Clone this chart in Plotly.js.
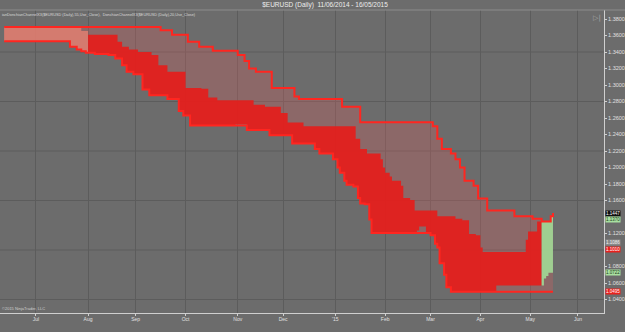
<!DOCTYPE html>
<html><head><meta charset="utf-8">
<script src="https://cdn.plot.ly/plotly-3.0.1.min.js"></script>
<style>html,body{margin:0;padding:0;background:#6c6c6c;}#chart{width:625px;height:332px;}</style>
</head><body><div id="chart"></div>
<script>
// Donchian channel 55 (Use_Close): step points (date, upper, lower)
const dates55 = ['2014-06-11','2014-07-22','2014-07-25','2014-07-29','2014-07-31','2014-08-06','2014-08-14','2014-08-19','2014-08-22','2014-08-26','2014-08-29','2014-09-04','2014-09-09','2014-09-16','2014-09-19','2014-09-23','2014-09-26','2014-09-30','2014-10-02','2014-10-03','2014-10-09','2014-10-17','2014-11-03','2014-11-06','2014-11-07','2014-11-10','2014-11-13','2014-11-21','2014-11-24','2014-12-05','2014-12-08','2014-12-10','2014-12-19','2014-12-23','2014-12-31','2015-01-02','2015-01-05','2015-01-06','2015-01-07','2015-01-08','2015-01-13','2015-01-15','2015-01-16','2015-01-20','2015-01-22','2015-01-23','2015-03-02','2015-03-03','2015-03-04','2015-03-05','2015-03-06','2015-03-09','2015-03-10','2015-03-11','2015-03-13','2015-03-17','2015-03-19','2015-03-23','2015-03-27','2015-03-31','2015-04-06','2015-04-22','2015-05-04','2015-05-08','2015-05-14','2015-05-15'];
const upper55 = [1.3703,1.3703,1.3703,1.3703,1.3703,1.3703,1.3703,1.3703,1.3703,1.3703,1.3703,1.3703,1.3703,1.3665,1.3665,1.3610,1.3610,1.3610,1.3525,1.3525,1.3465,1.3415,1.3365,1.3290,1.3290,1.3200,1.3160,1.3160,1.2965,1.2965,1.2860,1.2830,1.2830,1.2830,1.2830,1.2830,1.2830,1.2735,1.2735,1.2735,1.2735,1.2735,1.2550,1.2550,1.2550,1.2550,1.2550,1.2500,1.2500,1.2350,1.2350,1.2225,1.2225,1.2225,1.2170,1.2100,1.2000,1.1840,1.1780,1.1625,1.1480,1.1410,1.1380,1.1345,1.1410,1.1447];
const lower55 = [1.3530,1.3465,1.3430,1.3410,1.3390,1.3375,1.3365,1.3320,1.3240,1.3160,1.3130,1.2945,1.2875,1.2875,1.2830,1.2830,1.2685,1.2630,1.2630,1.2510,1.2510,1.2510,1.2510,1.2510,1.2455,1.2455,1.2455,1.2390,1.2390,1.2290,1.2290,1.2290,1.2225,1.2170,1.2100,1.2000,1.1935,1.1935,1.1840,1.1790,1.1770,1.1630,1.1565,1.1555,1.1370,1.1205,1.1180,1.1180,1.1075,1.1030,1.0840,1.0840,1.0700,1.0550,1.0495,1.0495,1.0495,1.0495,1.0495,1.0495,1.0495,1.0495,1.0495,1.0495,1.0495,1.0495];

// Donchian channel 20 (Use_Close): step points (date, upper, lower)
const dates20 = ['2014-06-11','2014-07-22','2014-07-25','2014-07-29','2014-07-31','2014-08-01','2014-08-06','2014-08-14','2014-08-19','2014-08-20','2014-08-22','2014-08-26','2014-08-27','2014-08-29','2014-09-02','2014-09-04','2014-09-09','2014-09-10','2014-09-15','2014-09-19','2014-09-26','2014-09-30','2014-10-01','2014-10-03','2014-10-10','2014-10-15','2014-10-21','2014-10-31','2014-11-07','2014-11-12','2014-11-19','2014-11-21','2014-11-28','2014-12-03','2014-12-05','2014-12-12','2014-12-19','2014-12-23','2014-12-31','2015-01-02','2015-01-05','2015-01-07','2015-01-08','2015-01-13','2015-01-14','2015-01-15','2015-01-16','2015-01-20','2015-01-21','2015-01-22','2015-01-23','2015-01-29','2015-01-30','2015-02-02','2015-02-04','2015-02-05','2015-02-11','2015-02-12','2015-02-17','2015-02-19','2015-02-20','2015-02-23','2015-02-26','2015-03-02','2015-03-04','2015-03-05','2015-03-06','2015-03-10','2015-03-11','2015-03-13','2015-03-17','2015-03-20','2015-03-25','2015-03-30','2015-04-01','2015-04-02','2015-04-10','2015-04-29','2015-04-30','2015-05-06','2015-05-11','2015-05-12','2015-05-13','2015-05-14','2015-05-15'];
const upper20 = [1.3703,1.3703,1.3703,1.3655,1.3655,1.3610,1.3610,1.3610,1.3610,1.3525,1.3465,1.3465,1.3430,1.3430,1.3400,1.3400,1.3400,1.3365,1.3240,1.3160,1.3160,1.3160,1.2965,1.2965,1.2955,1.2850,1.2815,1.2815,1.2815,1.2760,1.2735,1.2735,1.2660,1.2545,1.2545,1.2500,1.2500,1.2500,1.2500,1.2500,1.2500,1.2500,1.2500,1.2500,1.2350,1.2350,1.2225,1.2225,1.2170,1.2170,1.2170,1.2100,1.2000,1.1935,1.1890,1.1840,1.1780,1.1630,1.1605,1.1480,1.1480,1.1480,1.1480,1.1480,1.1480,1.1410,1.1410,1.1410,1.1410,1.1410,1.1380,1.1360,1.1195,1.1180,1.1030,1.0975,1.0975,1.1125,1.1225,1.1345,1.1345,1.1345,1.1345,1.1410,1.1447];
const lower20 = [1.3530,1.3465,1.3430,1.3410,1.3390,1.3390,1.3375,1.3365,1.3320,1.3320,1.3240,1.3160,1.3160,1.3130,1.3130,1.2945,1.2875,1.2875,1.2875,1.2830,1.2685,1.2630,1.2630,1.2510,1.2510,1.2510,1.2510,1.2525,1.2455,1.2455,1.2455,1.2390,1.2390,1.2390,1.2290,1.2290,1.2225,1.2170,1.2100,1.2000,1.1935,1.1840,1.1790,1.1770,1.1770,1.1630,1.1565,1.1555,1.1555,1.1370,1.1205,1.1205,1.1205,1.1205,1.1205,1.1205,1.1205,1.1205,1.1205,1.1205,1.1235,1.1285,1.1195,1.1180,1.1075,1.1030,1.0840,1.0700,1.0550,1.0495,1.0495,1.0495,1.0495,1.0495,1.0495,1.0495,1.0570,1.0570,1.0570,1.0570,1.0655,1.0685,1.0725,1.0725,1.0725];

// trend colouring of the 20 channel (segment boundaries)
const segStarts = ['2014-06-11','2014-08-01','2015-05-08'];
const segEnd = '2015-05-15';

// axis ticks / labels
const monthTicks = ['2014-07-01','2014-08-01','2014-09-01','2014-10-01','2014-11-03','2014-12-01','2015-01-01','2015-02-02','2015-03-02','2015-04-01','2015-05-01','2015-06-01'];
const monthLabels = ['Jul','Aug','Sep','Oct','Nov','Dec',"'15",'Feb','Mar','Apr','May','Jun'];
const priceTicks = [1.04,1.06,1.08,1.12,1.16,1.18,1.20,1.22,1.24,1.26,1.28,1.30,1.32,1.34,1.36,1.38];
const gridLevels = [1.04,1.10,1.16,1.22,1.28,1.34];

// right-axis value markers (last price and indicator values)
const markerValues = [1.1447,1.1370,1.1086,1.1010,1.0722,1.0495];

const FONT = 'Liberation Sans, Arial, sans-serif';

function seg(dates, a, b, start, end, includeEnd) {
  const x=[], ya=[], yb=[];
  let idx=-1;
  for (let i=0;i<dates.length;i++) if (dates[i] <= start) idx=i;
  if (idx>=0 && dates[idx] !== start) { x.push(start); ya.push(a[idx]); yb.push(b[idx]); }
  let last=-1;
  for (let i=0;i<dates.length;i++) {
    if (dates[i] >= start && (dates[i] < end || (includeEnd && dates[i] === end))) {
      x.push(dates[i]); ya.push(a[i]); yb.push(b[i]);
    }
    if (dates[i] < end) last=i;
  }
  if (!includeEnd && last>=0) { x.push(end); ya.push(a[last]); yb.push(b[last]); }
  return {x, ya, yb};
}

const traces = [];
function band(x, up, lo, color) {
  traces.push({x:x, y:up, type:'scatter', mode:'lines', line:{width:0, shape:'hv'}, hoverinfo:'skip'});
  traces.push({x:x, y:lo, type:'scatter', mode:'lines', line:{width:0, shape:'hv'}, fill:'tonexty', fillcolor:color, hoverinfo:'skip'});
}
band(dates55, upper55, lower55, 'rgba(215,95,95,0.30)');
const segColors = ['rgba(222,125,112,0.88)','rgba(228,30,28,0.93)','rgba(160,214,148,0.93)'];
for (let s=0;s<segStarts.length;s++) {
  const last = s === segStarts.length-1;
  const e = last ? segEnd : segStarts[s+1];
  const g = seg(dates20, upper20, lower20, segStarts[s], e, last);
  band(g.x, g.ya, g.yb, segColors[s]);
}
traces.push({x:dates55, y:upper55, type:'scatter', mode:'lines', line:{color:'#ff2620', width:2, shape:'hv'}, hoverinfo:'skip'});
traces.push({x:dates55, y:lower55, type:'scatter', mode:'lines', line:{color:'#ff2620', width:2, shape:'hv'}, hoverinfo:'skip'});

const shapes = gridLevels.map(v => ({type:'line', xref:'paper', x0:0, x1:1, yref:'y', y0:v, y1:v, line:{color:'#5c5c5c', width:1}, layer:'below'}));
shapes.push({type:'line', xref:'paper', x0:-0.01, x1:1.04, yref:'paper', y0:1, y1:1, line:{color:'#8c8c8c', width:1}});

const mColors = [['#101010','#ffffff'],['#a8e0a0','#1a3a1a'],['#8a8a8a','#f0f0f0'],['#e8201c','#ffffff'],['#a8e0a0','#1a3a1a'],['#e8201c','#ffffff']];
const annotations = markerValues.map((v,i) => ({
  xref:'paper', x:1, xanchor:'left', xshift:1, yref:'y', y:v, yanchor:'middle',
  text:v.toFixed(4), showarrow:false, bgcolor:mColors[i][0], borderpad:0,
  font:{family:FONT, size:4.5, color:mColors[i][1]}
}));
annotations.push({xref:'paper', x:0, xanchor:'left', yref:'paper', y:1, yanchor:'top', yshift:-1,
  text:'ianDonchianChannelX3($EURUSD (Daily),55,Use_Close),  DonchianChannelX3($EURUSD (Daily),20,Use_Close)',
  showarrow:false, font:{family:FONT, size:3.8, color:'#d8d8d8'}});
annotations.push({xref:'paper', x:0, xanchor:'left', yref:'paper', y:0, yanchor:'bottom', yshift:0,
  text:'©2015 NinjaTrader, LLC', showarrow:false, font:{family:FONT, size:4, color:'#d0d0d0'}});
annotations.push({xref:'paper', x:0.988, xanchor:'center', yref:'paper', y:1, yanchor:'top', yshift:-2,
  text:'▷|', showarrow:false, font:{family:'DejaVu Sans', size:7, color:'#a8a8a8'}});

const layout = {
  width:625, height:332,
  margin:{l:0, r:21, t:10, b:19, pad:0},
  paper_bgcolor:'#6c6c6c', plot_bgcolor:'#6c6c6c',
  showlegend:false,
  title:{text:'$EURUSD (Daily)  11/06/2014 - 16/05/2015', xref:'container', x:0.52, xanchor:'center', yref:'container', y:0.985, yanchor:'middle', font:{family:FONT, size:6.5, color:'#ececec'}},
  xaxis:{type:'date', range:['2014-06-09 04:00','2015-06-16 12:00'], rangebreaks:[{bounds:['sat','mon']}],
    tickmode:'array', tickvals:monthTicks, ticktext:monthLabels,
    showgrid:true, gridcolor:'#5c5c5c', gridwidth:1, zeroline:false,
    ticks:'outside', ticklen:2, tickcolor:'#cfcfcf', showline:true, linecolor:'#cfcfcf', linewidth:1,
    ticklabelstandoff:-1,
    tickfont:{family:FONT, size:5, color:'#e0e0e0'}, fixedrange:true},
  yaxis:{side:'right', range:[1.02364,1.39091], tickmode:'array', tickvals:priceTicks,
    ticktext:priceTicks.map(v => v.toFixed(4)),
    showgrid:false, zeroline:false, ticks:'outside', ticklen:2, tickcolor:'#cfcfcf',
    showline:true, linecolor:'#cfcfcf', linewidth:1,
    tickfont:{family:FONT, size:5.5, color:'#e0e0e0'}, fixedrange:true},
  shapes:shapes,
  annotations:annotations
};
Plotly.newPlot('chart', traces, layout, {displayModeBar:false, staticPlot:true});
</script>
</body></html>
